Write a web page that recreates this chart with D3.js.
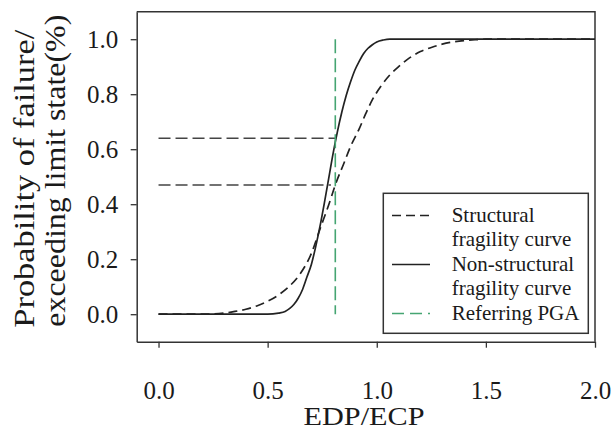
<!DOCTYPE html>
<html>
<head>
<meta charset="utf-8">
<script src="https://cdn.jsdelivr.net/npm/d3@7"></script>
<style>
  html, body { margin: 0; padding: 0; background: #fff; }
  svg { display: block; }
  text { font-family: "Liberation Serif", "Times New Roman", serif; fill: #1a1a1a; }
</style>
</head>
<body>
<svg id="chart" width="614" height="427" font-family="Liberation Serif, serif"></svg>
<script>
// ---- data ----
const structuralX = [0, 0.2, 0.3, 0.35, 0.4, 0.45, 0.5, 0.55, 0.6, 0.65, 0.7, 0.74, 0.78, 0.81, 0.85, 0.88, 0.92, 0.95, 0.98, 1.02, 1.06, 1.1, 1.15, 1.2, 1.25, 1.3, 1.35, 1.4, 1.45, 1.5, 2.0];
const structuralY = [0, 0, 0.004, 0.01, 0.018, 0.03, 0.047, 0.07, 0.102, 0.148, 0.22, 0.31, 0.398, 0.47, 0.55, 0.61, 0.675, 0.73, 0.78, 0.83, 0.87, 0.9, 0.932, 0.955, 0.97, 0.982, 0.99, 0.995, 0.998, 1.0, 1.0];

const nonStructuralX = [0, 0.3, 0.5, 0.55, 0.58, 0.6, 0.62, 0.64, 0.66, 0.68, 0.70, 0.72, 0.74, 0.76, 0.78, 0.80, 0.82, 0.84, 0.86, 0.88, 0.90, 0.92, 0.94, 0.96, 0.98, 1.00, 1.03, 1.06, 1.2, 1.5, 2.0];
const nonStructuralY = [0, 0, 0, 0.004, 0.01, 0.02, 0.035, 0.058, 0.09, 0.135, 0.18, 0.245, 0.32, 0.405, 0.495, 0.585, 0.665, 0.735, 0.795, 0.845, 0.888, 0.92, 0.948, 0.967, 0.98, 0.99, 0.997, 1.0, 1.0, 1.0, 1.0];

const referringPGA = 0.81;          // vertical green dashed line
const refLevels = [0.64, 0.47];     // horizontal dashed lines
const refLevelEndX = [0.81, 0.79];

const xTicks = [0, 0.5, 1.0, 1.5, 2.0];
const yTicks = [0, 0.2, 0.4, 0.6, 0.8, 1.0];
const xDomain = [-0.1, 2.0];
const yDomain = [-0.1, 1.1];

const legendLabels = [["Structural", "fragility curve"], ["Non-structural", "fragility curve"], ["Referring PGA"]];
const xTitle = "EDP/ECP";
const yTitle = ["Probability of failure/", "exceeding limit state(%)"];

// ---- drawing ----
const svg = d3.select("#chart");
const pL = 136.7, pR = 595, pT = 11.7, pB = 341.7;
const x = d3.scaleLinear().domain(xDomain).range([pL, pR]);
const y = d3.scaleLinear().domain(yDomain).range([pB, pT]);

const ink = "#222";
const green = "#45a572";
const serif = '"Liberation Serif", "Times New Roman", serif';

// frame (top & right)
svg.append("path")
  .attr("d", `M${pL},${pT}H${pR}V${pB}`)
  .attr("fill", "none").attr("stroke", "#333").attr("stroke-width", 1.5);

// axes
const xAxis = svg.append("g").attr("transform", `translate(0,${pB})`)
  .call(d3.axisBottom(x).tickValues(xTicks).tickFormat(d3.format(".1f")).tickSize(6).tickSizeOuter(0).tickPadding(34));
const yAxis = svg.append("g").attr("transform", `translate(${pL},0)`)
  .call(d3.axisLeft(y).tickValues(yTicks).tickFormat(d3.format(".1f")).tickSize(6).tickSizeOuter(0).tickPadding(12.5));

[xAxis, yAxis].forEach(g => {
  g.attr("font-family", serif);
  g.select(".domain").attr("stroke", "#333").attr("stroke-width", 1.5);
  g.selectAll(".tick line").attr("stroke", "#333").attr("stroke-width", 1.3);
  g.selectAll(".tick text").style("font-family", serif)
    .style("font-size", "25px").attr("fill", "#1a1a1a");
});

// horizontal reference dashed lines
svg.append("g").selectAll("line").data(refLevels).join("line")
  .attr("x1", x(0)).attr("x2", (d, i) => x(refLevelEndX[i]))
  .attr("y1", d => y(d)).attr("y2", d => y(d))
  .attr("stroke", "#444").attr("stroke-width", 1.5).attr("stroke-dasharray", "12,5");

// curves
const toPts = (xs, ys) => xs.map((v, i) => [v, ys[i]]);
const line = d3.line().x(d => x(d[0])).y(d => y(d[1])).curve(d3.curveMonotoneX);

svg.append("path").attr("d", line(toPts(structuralX, structuralY)))
  .attr("fill", "none").attr("stroke", ink).attr("stroke-width", 1.7).attr("stroke-dasharray", "9,5");
svg.append("path").attr("d", line(toPts(nonStructuralX, nonStructuralY)))
  .attr("fill", "none").attr("stroke", ink).attr("stroke-width", 1.7);

// vertical referring PGA line
svg.append("line")
  .attr("x1", x(referringPGA)).attr("x2", x(referringPGA))
  .attr("y1", y(1.0)).attr("y2", y(0))
  .attr("stroke", green).attr("stroke-width", 1.6).attr("stroke-dasharray", "14,5");

// legend
const lg = svg.append("g");
lg.append("rect").attr("x", 383.3).attr("y", 193.3).attr("width", 205).attr("height", 140)
  .attr("fill", "#fff").attr("stroke", "#333").attr("stroke-width", 1.5);
const baselines = [[221.5, 246], [270.5, 295], [319.5]];
const styles = [
  { stroke: ink, dash: "9,5" },
  { stroke: ink, dash: null },
  { stroke: green, dash: "12,6" }
];
legendLabels.forEach((lines, i) => {
  const ly = baselines[i][0] - 6;
  lg.append("line").attr("x1", 392).attr("x2", 430).attr("y1", ly).attr("y2", ly)
    .attr("stroke", styles[i].stroke).attr("stroke-width", 1.6)
    .attr("stroke-dasharray", styles[i].dash);
  lines.forEach((t, j) => {
    lg.append("text").attr("x", 451.7).attr("y", baselines[i][j])
      .style("font-size", "21px").text(t);
  });
});

// axis titles
svg.append("text").attr("x", 364).attr("y", 424.5)
  .attr("text-anchor", "middle").style("font-size", "25px")
  .attr("textLength", 121).attr("lengthAdjust", "spacingAndGlyphs").text(xTitle);

const yCenter = (pT + pB) / 2;
svg.append("text").attr("transform", `translate(33.5,${yCenter + 2}) rotate(-90)`)
  .attr("text-anchor", "middle").style("font-size", "29px")
  .attr("textLength", 298).attr("lengthAdjust", "spacingAndGlyphs").text(yTitle[0]);
svg.append("text").attr("transform", `translate(65,${yCenter - 6}) rotate(-90)`)
  .attr("text-anchor", "middle").style("font-size", "29px")
  .attr("textLength", 312).attr("lengthAdjust", "spacingAndGlyphs").text(yTitle[1]);
</script>
</body>
</html>
